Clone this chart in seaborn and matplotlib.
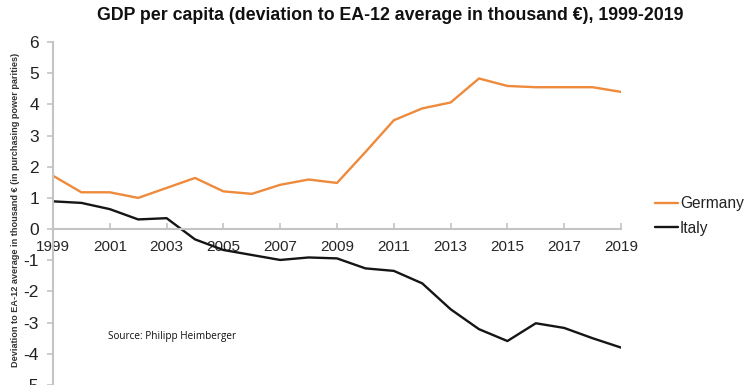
import matplotlib
matplotlib.use("Agg")
import matplotlib.pyplot as plt
import seaborn as sns
import pandas as pd

years = list(range(1999, 2020))
germany = [1.71, 1.18, 1.18, 1.00, 1.32, 1.64, 1.21, 1.13, 1.42, 1.59, 1.48,
           2.47, 3.49, 3.87, 4.06, 4.83, 4.59, 4.55, 4.55, 4.55, 4.40]
italy = [0.89, 0.84, 0.64, 0.31, 0.35, -0.33, -0.67, -0.83, -0.99, -0.91, -0.94,
         -1.26, -1.34, -1.74, -2.57, -3.21, -3.59, -3.02, -3.17, -3.50, -3.80]
series_names = ["Germany", "Italy"]
colors = ["#EE8A3C", "#151515"]
xticks = list(range(1999, 2020, 2))
yticks = list(range(-5, 7))

df = pd.DataFrame({
    "year": years * 2,
    "value": germany + italy,
    "country": [series_names[0]] * len(years) + [series_names[1]] * len(years),
})

sns.set_theme(style="white")
plt.rcParams['font.family'] = ['Liberation Sans', 'DejaVu Sans']

W, H = 748, 385
fig = plt.figure(figsize=(W / 100, H / 100), dpi=100)
ax = fig.add_axes([53 / W, 0.0, (621 - 53) / W, (385 - 42) / H])

sns.lineplot(data=df, x="year", y="value", hue="country",
             palette=dict(zip(series_names, colors)), linewidth=1.7, ax=ax,
             legend=True)

ax.set_xlim(1999, 2019)
ax.set_ylim(-5, 6)
ax.set_xticks(xticks)
ax.set_yticks(yticks)
ax.set_xticklabels([str(x) for x in xticks], fontsize=10.8, color="#222222")
ax.set_yticklabels([str(y) for y in yticks], fontsize=12.5, color="#222222")
ax.set_xlabel("")
ax.set_ylabel("")

for s in ["top", "right"]:
    ax.spines[s].set_visible(False)
for s in ["left", "bottom"]:
    ax.spines[s].set_color("#c4c4c4")
    ax.spines[s].set_linewidth(1.5)
ax.spines["bottom"].set_position(("data", 0))
ax.tick_params(axis="x", direction="in", length=4, width=1.2, color="#c4c4c4", pad=8)
ax.tick_params(axis="y", direction="out", length=4, width=1.2, color="#c4c4c4", pad=6,
               left=True)
ax.tick_params(axis="x", bottom=True)

leg = ax.legend(loc="center left", bbox_to_anchor=(655 / W, 1 - 216 / H),
                bbox_transform=fig.transFigure, frameon=False, fontsize=11.2,
                handlelength=1.5, handletextpad=0.1, labelspacing=0.6,
                borderaxespad=0, borderpad=0)
for t in leg.get_texts():
    t.set_color("#222222")
for h in leg.get_lines():
    h.set_linewidth(1.7)

fig.text(390 / W, 1 - 15 / H,
         "GDP per capita (deviation to EA-12 average in thousand €), 1999-2019",
         ha="center", va="center", fontsize=12.8, fontweight="bold", color="#111111")

fig.text(16 / W, 1 - 210 / H,
         "Deviation to EA-12 average in thousand € (in purchasing power parities)",
         rotation=90, ha="center", va="center", fontsize=6.55, fontweight="bold",
         color="#333333")

fig.text(108 / W, 1 - 336 / H, "Source: Philipp Heimberger",
         ha="left", va="center", fontsize=7.2, family=["Open Sans", "DejaVu Sans"],
         color="#111111")

fig.savefig("out.png", dpi=100)
